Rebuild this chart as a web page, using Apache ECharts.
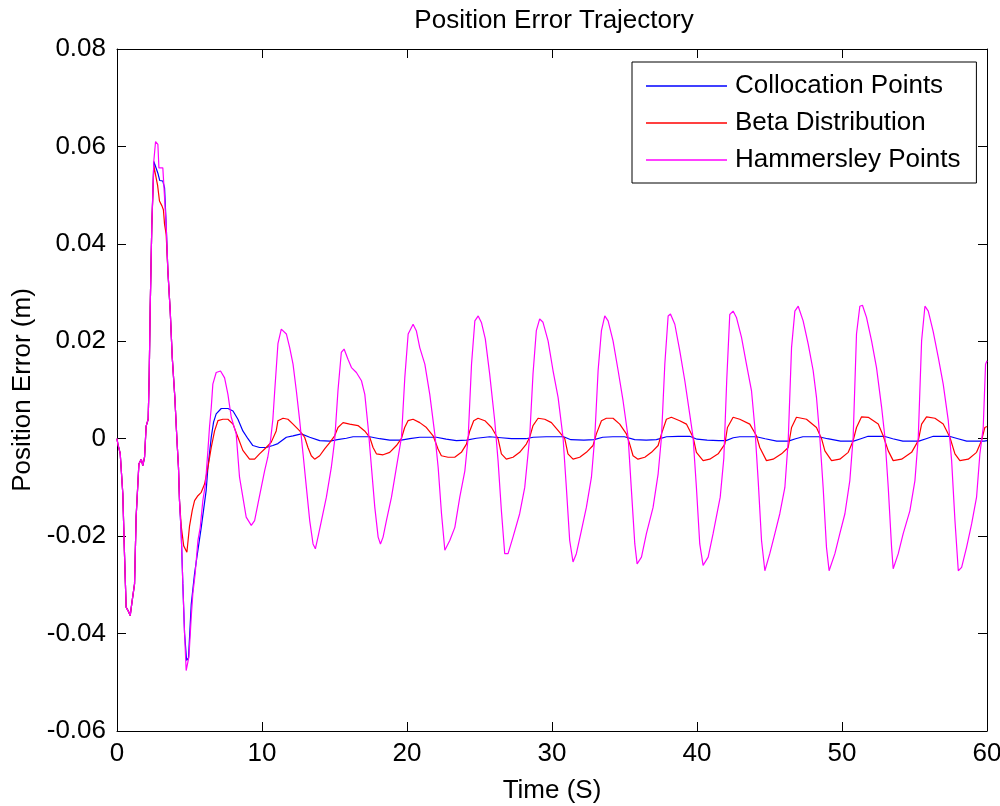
<!DOCTYPE html>
<html><head><meta charset="utf-8">
<script src="https://cdn.jsdelivr.net/npm/echarts@6/dist/echarts.min.js"></script>
<style>html,body{margin:0;padding:0;background:#fff}#c{width:1000px;height:806px}</style>
</head><body><div id="c"></div>
<script>
const chartTitle = 'Position Error Trajectory';
const xName = 'Time (S)';
const yName = 'Position Error (m)';
const seriesNames = ['Collocation Points', 'Beta Distribution', 'Hammersley Points'];
const xTickLabels = ['0', '10', '20', '30', '40', '50', '60'];
const yTickLabels = ['-0.06', '-0.04', '-0.02', '0', '0.02', '0.04', '0.06', '0.08'];

// [time (s), position error (m)]
const collocation = [
[0,0],[0.06,-0.0011],[0.22,-0.003],[0.40,-0.0113],[0.52,-0.024],[0.63,-0.0346],[0.8,-0.0355],[0.91,-0.0363],[1.05,-0.0332],[1.21,-0.0298],[1.32,-0.016],[1.51,-0.0052],[1.67,-0.0042],[1.78,-0.0055],[1.9,-0.0038],[2.01,0.0026],[2.15,0.004],[2.22,0.0129],[2.29,0.0269],[2.4,0.0437],[2.54,0.0569],[2.66,0.0565],[2.82,0.0545],[2.95,0.053],[3.16,0.0529],[3.28,0.0515],[3.39,0.044],[3.51,0.0344],[3.67,0.0262],[3.81,0.0167],[3.99,0.0084],[4.13,0.0],[4.24,-0.0059],[4.31,-0.0127],[4.43,-0.0195],[4.54,-0.0298],[4.66,-0.04],[4.8,-0.0455],[4.93,-0.045],[5.12,-0.034],[5.35,-0.0277],[5.51,-0.0243],[5.81,-0.0182],[6.15,-0.0106],[6.27,-0.0059],[6.5,0.0003],[6.66,0.0034],[6.84,0.0051],[7.19,0.0062],[7.65,0.0062],[8.0,0.0057],[8.34,0.004],[8.68,0.0016],[9.03,0.0],[9.37,-0.0014],[9.83,-0.0018],[10.29,-0.0018],[10.75,-0.0014],[11.1,-0.001],[11.68,0.0003],[12.14,0.0006],[12.71,0.001],[13.29,0.0003],[13.98,-0.0004],[14.67,-0.0005],[15.2,-0.0002],[15.82,0.0001],[16.28,0.0004],[17.43,0.0004],[18.12,0],[18.81,-0.0003],[19.6,-0.0003],[20.19,0],[20.88,0.0003],[22.03,0.0003],[22.7,-0.0001],[23.41,-0.0004],[24.1,-0.0003],[24.79,0.0001],[25.71,0.0004],[26.5,0.0002],[27.2,0],[28.2,0],[28.7,0.0003],[29.6,0.0004],[30.8,0.0004],[31.3,-0.0002],[32.2,-0.0003],[32.9,-0.0002],[33.5,0.0003],[34.2,0.0004],[35.0,0.0004],[35.7,-0.0002],[36.5,-0.0003],[37.2,-0.0002],[37.9,0.0004],[38.7,0.0005],[39.5,0.0005],[40.0,-0.0001],[40.7,-0.0003],[41.5,-0.0004],[42.0,-0.0004],[42.5,0.0002],[42.95,0.0004],[44.1,0.0004],[44.7,0],[45.5,-0.0005],[46.3,-0.0005],[46.8,0],[47.3,0.0004],[48.4,0.0004],[49.0,0],[49.9,-0.0005],[50.8,-0.0005],[51.3,0],[51.8,0.0005],[52.9,0.0005],[53.5,0],[54.2,-0.0005],[55.3,-0.0005],[55.8,0],[56.3,0.0005],[57.4,0.0005],[58.0,0],[58.6,-0.0005],[59.8,-0.0005],[60,-0.0004]
];

const beta = [
[0,0],[0.06,-0.0011],[0.22,-0.003],[0.40,-0.0113],[0.52,-0.024],[0.63,-0.0346],[0.8,-0.0355],[0.91,-0.0363],[1.05,-0.0332],[1.21,-0.0298],[1.32,-0.016],[1.51,-0.0052],[1.67,-0.0042],[1.78,-0.0055],[1.9,-0.0038],[2.01,0.0026],[2.15,0.004],[2.22,0.0129],[2.29,0.0269],[2.4,0.0437],[2.54,0.056],[2.66,0.056],[2.8,0.052],[2.93,0.0488],[3.1,0.0478],[3.2,0.047],[3.28,0.044],[3.39,0.042],[3.51,0.0344],[3.67,0.0262],[3.81,0.0167],[3.99,0.0084],[4.13,0.0],[4.24,-0.0059],[4.31,-0.0127],[4.43,-0.018],[4.6,-0.022],[4.82,-0.0233],[5.0,-0.018],[5.19,-0.0147],[5.35,-0.0127],[5.58,-0.0117],[5.81,-0.011],[6.04,-0.0093],[6.27,-0.0059],[6.5,-0.0018],[6.73,0.0016],[6.96,0.0037],[7.3,0.004],[7.65,0.004],[8.0,0.003],[8.34,0.0003],[8.68,-0.0024],[9.14,-0.0042],[9.49,-0.0042],[9.83,-0.0031],[10.29,-0.0018],[10.64,-0.0007],[10.98,0.0016],[11.1,0.0037],[11.45,0.0042],[11.79,0.004],[12.14,0.003],[12.6,0.0016],[12.94,0.0003],[13.17,-0.0018],[13.4,-0.0035],[13.63,-0.0042],[13.98,-0.0035],[14.32,-0.0021],[14.67,-0.0008],[15.01,0.0006],[15.24,0.0023],[15.59,0.0033],[16.05,0.003],[16.62,0.0027],[17.08,0.0016],[17.43,0.0003],[17.66,-0.0018],[17.89,-0.0031],[18.35,-0.0033],[18.81,-0.0028],[19.27,-0.0014],[19.61,0],[19.84,0.0023],[20.07,0.0037],[20.42,0.004],[20.88,0.0033],[21.34,0.0023],[21.8,0.0006],[22.14,-0.0021],[22.37,-0.0035],[22.83,-0.0038],[23.29,-0.0038],[23.75,-0.0028],[24.1,-0.0011],[24.33,0.0016],[24.6,0.0037],[24.9,0.0042],[25.37,0.0037],[25.83,0.0023],[26.28,0],[26.51,-0.0031],[26.85,-0.0042],[27.31,-0.0038],[27.77,-0.0028],[28.23,-0.0011],[28.46,0.0003],[28.69,0.0027],[29.04,0.0042],[29.5,0.004],[29.96,0.0033],[30.53,0.0013],[30.88,0],[31.1,-0.0031],[31.45,-0.0042],[31.91,-0.0038],[32.37,-0.0028],[32.83,-0.0014],[33.06,0.001],[33.41,0.0037],[33.75,0.0042],[34.21,0.0042],[34.67,0.003],[35.13,0.001],[35.36,-0.0011],[35.59,-0.0035],[35.93,-0.0042],[36.4,-0.0038],[36.86,-0.0028],[37.32,-0.0014],[37.55,0.001],[37.89,0.004],[38.23,0.0044],[38.81,0.0037],[39.27,0.003],[39.73,0.0003],[39.96,-0.0028],[40.42,-0.0045],[40.88,-0.0042],[41.46,-0.0031],[41.92,-0.0011],[42.1,0.0023],[42.49,0.0044],[42.95,0.004],[43.64,0.003],[44.1,0.0006],[44.33,-0.0018],[44.79,-0.0045],[45.25,-0.0042],[45.83,-0.0031],[46.29,-0.0018],[46.52,0.0023],[46.86,0.0044],[47.55,0.004],[48.24,0.0023],[48.59,0],[48.82,-0.0025],[49.28,-0.0045],[49.85,-0.0042],[50.43,-0.0028],[50.77,-0.0004],[51.0,0.0023],[51.35,0.0045],[51.81,0.0044],[52.5,0.003],[52.84,0.0006],[53.19,-0.0025],[53.53,-0.0045],[54.11,-0.0042],[54.8,-0.0028],[55.26,-0.0004],[55.49,0.003],[55.83,0.0045],[56.41,0.0042],[56.98,0.003],[57.44,0.0003],[57.79,-0.0031],[58.13,-0.0045],[58.71,-0.0042],[59.28,-0.0028],[59.62,-0.0004],[59.85,0.0023],[60,0.0025]
];

const hammersley = [
[0,0],[0.06,-0.0011],[0.22,-0.003],[0.40,-0.0113],[0.52,-0.024],[0.63,-0.0346],[0.8,-0.0355],[0.91,-0.0363],[1.05,-0.0332],[1.21,-0.0298],[1.32,-0.016],[1.51,-0.0052],[1.67,-0.0042],[1.78,-0.0055],[1.9,-0.0038],[2.01,0.0026],[2.15,0.004],[2.22,0.0129],[2.29,0.0269],[2.4,0.0437],[2.54,0.057],[2.66,0.061],[2.82,0.0604],[2.89,0.0556],[3.16,0.0556],[3.28,0.0553],[3.39,0.044],[3.51,0.0344],[3.67,0.0262],[3.81,0.0167],[3.99,0.0084],[4.13,0.0],[4.24,-0.0059],[4.31,-0.0127],[4.43,-0.0195],[4.54,-0.0298],[4.66,-0.04],[4.77,-0.0476],[4.96,-0.0448],[5.12,-0.0366],[5.23,-0.0318],[5.39,-0.0277],[5.58,-0.0209],[5.74,-0.0182],[5.92,-0.0127],[6.1,-0.0093],[6.27,-0.0024],[6.38,0.0024],[6.5,0.0064],[6.61,0.0112],[6.84,0.0136],[7.14,0.0139],[7.42,0.0125],[7.65,0.0091],[7.88,0.0044],[8.22,0.001],[8.45,-0.0079],[8.68,-0.012],[8.91,-0.0161],[9.26,-0.0178],[9.49,-0.0168],[9.72,-0.0134],[9.95,-0.01],[10.18,-0.0066],[10.4,-0.0038],[10.59,-0.0003],[10.75,0.004],[10.87,0.0095],[11.1,0.0195],[11.33,0.0225],[11.45,0.0228],[11.68,0.0215],[11.91,0.0187],[12.14,0.0153],[12.37,0.0098],[12.6,0.0037],[12.83,-0.0031],[13.06,-0.01],[13.29,-0.0168],[13.52,-0.0216],[13.68,-0.0226],[13.86,-0.0202],[14.1,-0.0168],[14.44,-0.012],[14.78,-0.0059],[15.01,-0.0004],[15.24,0.0099],[15.47,0.0177],[15.66,0.0184],[15.93,0.0163],[16.17,0.0146],[16.51,0.0136],[16.86,0.0119],[17.09,0.0091],[17.32,0.0023],[17.55,-0.0059],[17.78,-0.0141],[18.01,-0.0202],[18.17,-0.0216],[18.35,-0.0202],[18.58,-0.0168],[18.93,-0.012],[19.27,-0.0059],[19.62,0.0003],[19.85,0.0126],[20.08,0.0215],[20.42,0.0235],[20.65,0.0221],[20.88,0.0187],[21.23,0.0153],[21.57,0.0091],[21.92,0.0009],[22.15,-0.0059],[22.38,-0.0154],[22.61,-0.0229],[22.95,-0.0209],[23.3,-0.0182],[23.64,-0.012],[23.99,-0.0066],[24.22,0.0003],[24.45,0.0153],[24.68,0.0242],[24.91,0.0252],[25.14,0.0238],[25.4,0.0205],[25.7,0.0133],[26.05,0.0037],[26.28,-0.0045],[26.51,-0.0148],[26.74,-0.0236],[26.97,-0.0236],[27.31,-0.0202],[27.77,-0.0154],[28.12,-0.01],[28.46,0.0003],[28.69,0.0133],[28.92,0.0222],[29.15,0.0246],[29.38,0.0239],[29.73,0.0201],[30.07,0.014],[30.42,0.0085],[30.76,0.0003],[30.99,-0.01],[31.22,-0.0209],[31.45,-0.0253],[31.68,-0.0236],[32.03,-0.0188],[32.37,-0.0141],[32.72,-0.0079],[32.95,0.0003],[33.18,0.014],[33.41,0.0222],[33.64,0.0252],[33.87,0.0242],[34.21,0.0201],[34.56,0.014],[34.9,0.0078],[35.25,0.0003],[35.48,-0.0107],[35.71,-0.0216],[35.87,-0.0257],[36.17,-0.0243],[36.51,-0.0195],[36.97,-0.0141],[37.32,-0.0072],[37.55,0.0003],[37.78,0.0153],[38.01,0.0252],[38.17,0.0256],[38.47,0.0235],[38.81,0.0181],[39.16,0.0119],[39.5,0.005],[39.73,0.0003],[39.96,-0.01],[40.19,-0.0216],[40.42,-0.026],[40.77,-0.0243],[41.11,-0.0195],[41.6,-0.012],[41.85,-0.004],[42.05,0.012],[42.26,0.0255],[42.49,0.0262],[42.72,0.0249],[43.07,0.0208],[43.41,0.0153],[43.76,0.0098],[43.99,0.0023],[44.22,-0.0086],[44.45,-0.0209],[44.68,-0.0271],[45.02,-0.0236],[45.37,-0.0195],[45.71,-0.0154],[46.06,-0.01],[46.29,-0.0004],[46.52,0.0187],[46.75,0.0262],[46.98,0.0272],[47.32,0.0242],[47.67,0.0194],[48.01,0.014],[48.24,0.0085],[48.47,0.0003],[48.7,-0.01],[48.93,-0.0223],[49.11,-0.0271],[49.51,-0.0236],[49.85,-0.0195],[50.2,-0.0154],[50.54,-0.0086],[50.77,0.0003],[51.0,0.0215],[51.23,0.0272],[51.41,0.0274],[51.69,0.0249],[52.04,0.0201],[52.38,0.0146],[52.73,0.0065],[52.96,0.0003],[53.19,-0.01],[53.42,-0.0223],[53.53,-0.0267],[53.88,-0.0236],[54.22,-0.0195],[54.68,-0.0148],[55.03,-0.0086],[55.26,0.0003],[55.49,0.0201],[55.72,0.0272],[55.95,0.0262],[56.29,0.022],[56.64,0.0167],[56.98,0.0112],[57.33,0.0037],[57.56,-0.0045],[57.79,-0.0168],[58.02,-0.0271],[58.25,-0.0264],[58.59,-0.0223],[58.94,-0.0175],[59.28,-0.012],[59.51,-0.0031],[59.74,0.0023],[59.9,0.0153],[60,0.016]
];

const seriesColors = ['#0000ff', '#ff0000', '#ff00ff'];
const FONT = '"Liberation Sans", Arial, sans-serif';
const FS = 26;

const chart = echarts.init(document.getElementById('c'), null, {renderer: 'canvas'});

const tickStyle = {show: true, inside: true, length: 9, lineStyle: {color: '#000', width: 1}};
const lineAx = {show: true, onZero: false, lineStyle: {color: '#000', width: 1}};

chart.setOption({
  animation: false,
  backgroundColor: '#fff',
  title: {
    text: chartTitle, left: 549, top: 3, textAlign: 'center',
    textStyle: {fontFamily: FONT, fontSize: FS, fontWeight: 'normal', color: '#000'}
  },
  grid: {left: 117, right: 13, top: 49, bottom: 75, containLabel: false, outerBoundsMode: 'none'},
  legend: {
    data: seriesNames.map(n => ({name: n, icon: 'rect'})),
    orient: 'vertical', left: 632, top: 62,
    padding: [11, 16, 10, 14], itemWidth: 81, itemHeight: 1.5, itemGap: 11,
    borderColor: '#000', borderWidth: 1, backgroundColor: '#fff',
    textStyle: {fontFamily: FONT, fontSize: FS, lineHeight: 26, color: '#000', padding: [0, 0, 0, 3]}
  },
  xAxis: [
    {type: 'value', min: 0, max: 60, interval: 10, position: 'bottom',
     name: xName, nameLocation: 'middle', nameGap: 47,
     nameTextStyle: {fontFamily: FONT, fontSize: FS, color: '#000'},
     axisLine: lineAx, axisTick: tickStyle, splitLine: {show: false},
     axisLabel: {margin: 10, fontFamily: FONT, fontSize: FS, color: '#000',
       formatter: (v, i) => xTickLabels[i]}},
    {type: 'value', min: 0, max: 60, interval: 10, position: 'top',
     axisLine: lineAx, axisTick: tickStyle, splitLine: {show: false}, axisLabel: {show: false}}
  ],
  yAxis: [
    {type: 'value', min: -0.06, max: 0.08, interval: 0.02, position: 'left',
     name: yName, nameLocation: 'middle', nameGap: 80, nameRotate: 90,
     nameTextStyle: {fontFamily: FONT, fontSize: FS, color: '#000'},
     axisLine: lineAx, axisTick: tickStyle, splitLine: {show: false},
     axisLabel: {margin: 11, fontFamily: FONT, fontSize: FS, color: '#000',
       formatter: (v, i) => yTickLabels[i]}},
    {type: 'value', min: -0.06, max: 0.08, interval: 0.02, position: 'right',
     axisLine: lineAx, axisTick: tickStyle, splitLine: {show: false}, axisLabel: {show: false}}
  ],
  series: [
    {name: seriesNames[0], type: 'line', data: collocation, symbol: 'none', z: 2,
     lineStyle: {color: seriesColors[0], width: 1.2}, itemStyle: {color: seriesColors[0]}},
    {name: seriesNames[1], type: 'line', data: beta, symbol: 'none', z: 3,
     lineStyle: {color: seriesColors[1], width: 1.2}, itemStyle: {color: seriesColors[1]}},
    {name: seriesNames[2], type: 'line', data: hammersley, symbol: 'none', z: 4,
     lineStyle: {color: seriesColors[2], width: 1.2}, itemStyle: {color: seriesColors[2]}}
  ]
});
</script>
</body></html>
